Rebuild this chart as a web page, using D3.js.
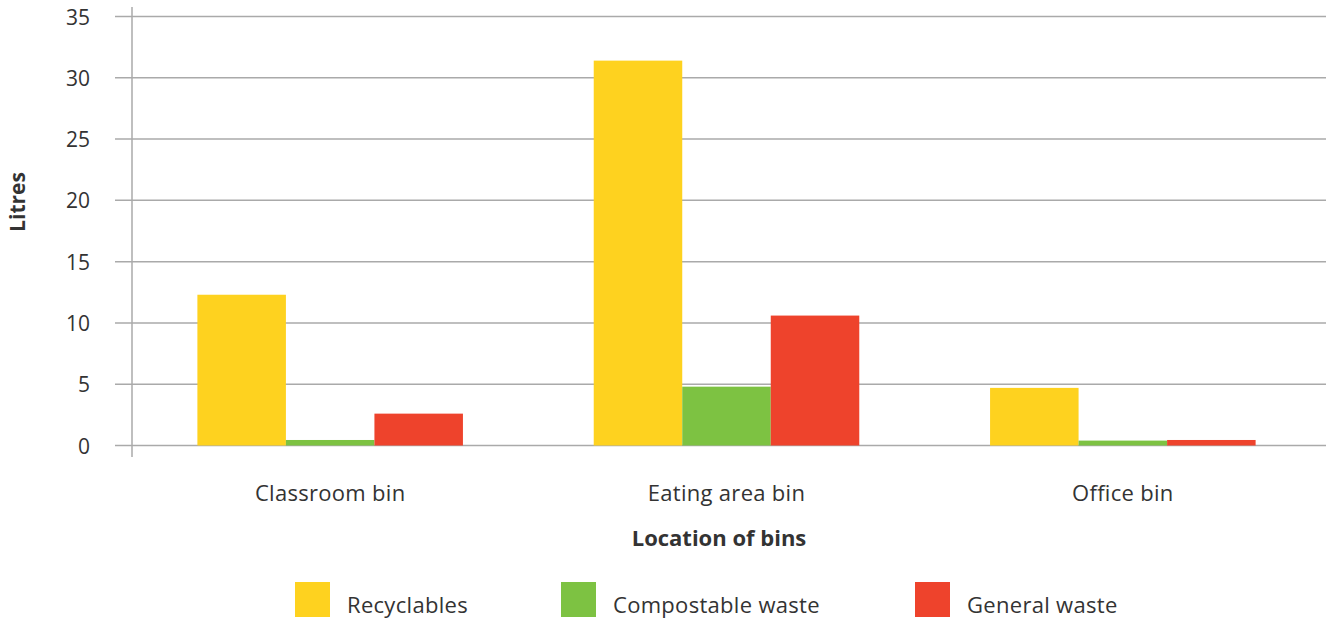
<!DOCTYPE html>
<html>
<head>
<meta charset="utf-8">
<script src="https://cdn.jsdelivr.net/npm/d3@7"></script>
<style>
  body { margin: 0; background: #fff; }
  text { font-family: "Open Sans", Lato, sans-serif; fill: #333; }
</style>
</head>
<body>
<svg></svg>
<script>
const categories = ["Classroom bin", "Eating area bin", "Office bin"];
const seriesNames = ["Recyclables", "Compostable waste", "General waste"];
const recyclables = [12.3, 31.4, 4.7];
const compostable = [0.45, 4.8, 0.4];
const general = [2.6, 10.6, 0.45];
const yTicks = [0, 5, 10, 15, 20, 25, 30, 35];
const colors = ["#fed21f", "#7dc242", "#ee432c"];

const width = 1326, height = 621;
const plotLeft = 132, plotRight = 1321, plotTop = 16.5, plotBottom = 445.5;

const svg = d3.select("svg").attr("width", width).attr("height", height);

const series = [recyclables, compostable, general];

const x = d3.scaleBand().domain(categories).range([plotLeft, plotRight])
  .paddingInner(0.33).paddingOuter(0.165);
const xs = d3.scaleBand().domain(seriesNames).range([0, x.bandwidth()]);
const y = d3.scaleLinear().domain([0, 35]).range([plotBottom, plotTop]);

// grid lines
svg.append("g").selectAll("line").data(yTicks).join("line")
  .attr("x1", 115).attr("x2", width)
  .attr("y1", d => y(d)).attr("y2", d => y(d))
  .attr("stroke", "#aaa").attr("stroke-width", 1.5);

// y axis line
svg.append("line")
  .attr("x1", plotLeft).attr("x2", plotLeft).attr("y1", 7).attr("y2", 457)
  .attr("stroke", "#aaa").attr("stroke-width", 1.5);

// y tick labels
svg.append("g").selectAll("text").data(yTicks).join("text")
  .attr("x", 90).attr("y", d => y(d) + 8)
  .attr("text-anchor", "end")
  .style("font-size", "21px")
  .text(d => d);

// bars
const rows = [];
categories.forEach((c, i) => {
  seriesNames.forEach((s, j) => rows.push({ c, s, j, v: series[j][i] }));
});
svg.append("g").selectAll("rect").data(rows).join("rect")
  .attr("x", d => x(d.c) + xs(d.s))
  .attr("width", xs.bandwidth())
  .attr("y", d => y(d.v))
  .attr("height", d => y(0) - y(d.v))
  .attr("fill", d => colors[d.j]);

// category labels
svg.append("g").selectAll("text").data(categories).join("text")
  .attr("x", d => x(d) + x.bandwidth() / 2)
  .attr("y", 501)
  .attr("text-anchor", "middle")
  .style("font-size", "22px").style("letter-spacing", "0.3px")
  .text(d => d);

// axis titles
svg.append("text")
  .attr("x", 719).attr("y", 546)
  .attr("text-anchor", "middle")
  .style("font-size", "22px").style("font-weight", "bold")
  .text("Location of bins");

svg.append("text")
  .attr("transform", "translate(25,202) rotate(-90)")
  .attr("text-anchor", "middle")
  .style("font-size", "21px").style("font-weight", "bold")
  .text("Litres");

// legend
const legendX = [295, 561, 915];
const lg = svg.append("g").selectAll("g").data(seriesNames).join("g")
  .attr("transform", (d, i) => `translate(${legendX[i]},582)`);
lg.append("rect").attr("width", 35).attr("height", 35)
  .attr("fill", (d, i) => colors[i]);
lg.append("text").attr("x", 52).attr("y", 31)
  .style("font-size", "22px").style("letter-spacing", "0.3px")
  .text(d => d);
</script>
</body>
</html>
